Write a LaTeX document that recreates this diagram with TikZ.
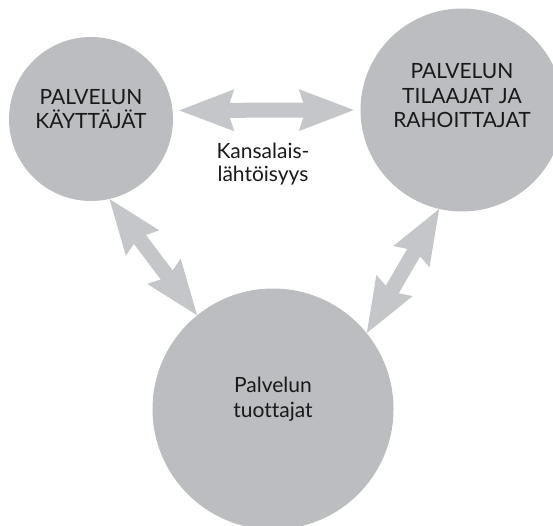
\documentclass[tikz,border=0pt]{standalone}
\usepackage{fontspec}
\setmainfont{Lato}[Ligatures=NoCommon]
\usetikzlibrary{arrows.meta}
\definecolor{circgray}{RGB}{188,189,192}
\definecolor{arrgray}{RGB}{197,198,201}
\tikzset{
  party/.style={circle, fill=circgray, inner sep=0pt},
  lbl/.style={align=center, font=\fontsize{21}{24.5}\selectfont, text=black!90},
  twoway/.style={draw=arrgray, line width=15pt,
      {Stealth[length=55pt,width=42pt,inset=7pt,line width=0pt]}-{Stealth[length=55pt,width=42pt,inset=7pt,line width=0pt]}}
}
\begin{document}
\begin{tikzpicture}[x=1pt, y=1pt]
  \useasboundingbox (0,0) rectangle (553,525);
  \node[party, minimum size=164pt] (kayttajat) at (91,406) {};
  \node[party, minimum size=203pt] (tilaajat) at (462,415) {};
  \node[party, minimum size=241pt] (tuottajat) at (273,116) {};

  \node[lbl] (kayttajatxt) at ([yshift=10pt]kayttajat.center) {PALVELUN\\KÄYTTÄJÄT};
  \node[lbl] (tilaajatxt) at ([yshift=14pt]tilaajat.center) {PALVELUN\\TILAAJAT JA\\RAHOITTAJAT};
  \node[lbl] (tuottajatxt) at ([yshift=10pt]tuottajat.center) {Palvelun\\tuottajat};
  \node[lbl, font=\fontsize{21}{23}\selectfont] (kansa) at (263,361) {Kansalais-\\lähtöisyys};

  \draw[twoway, shorten <=6.5pt, shorten >=6.5pt] (kayttajat.6) -- (tilaajat.180);
  \draw[twoway] (kayttajat.-77) -- (tuottajat.129);
  \draw[twoway] (tilaajat.-103) -- (tuottajat.39);
\end{tikzpicture}
\end{document}
